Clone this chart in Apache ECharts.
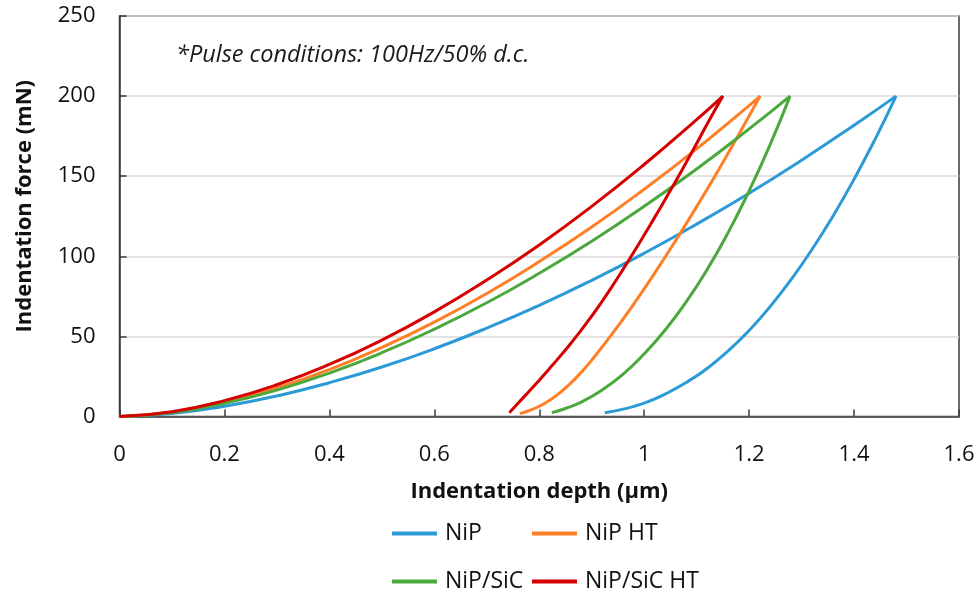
<!DOCTYPE html>
<html><head><meta charset="utf-8">
<script src="https://cdn.jsdelivr.net/npm/echarts@6/dist/echarts.min.js"></script>
<style>html,body{margin:0;padding:0;background:#fff}#c{width:978px;height:593px}</style>
</head><body><div id="c"></div>
<script>
// Series names and colours
const seriesNames = ['NiP', 'NiP HT', 'NiP/SiC', 'NiP/SiC HT'];
const seriesColors = ['#2C9AD6', '#FF7F27', '#4AA83C', '#D60000'];

// Axis ticks
const xTicks = [0, 0.2, 0.4, 0.6, 0.8, 1, 1.2, 1.4, 1.6];
const yTicks = [0, 50, 100, 150, 200, 250];

// NiP
const nipLoadH = [0, 0.1, 0.2, 0.3, 0.4, 0.5, 0.6, 0.7, 0.8, 0.9, 1.0, 1.1, 1.2, 1.3, 1.4, 1.48];
const nipLoadF = [0, 1.9, 6.4, 12.8, 21.1, 30.9, 42.3, 55.2, 69.4, 85.0, 101.9, 120.1, 139.4, 160.0, 181.8, 200];
const nipUnloadH = [1.48, 1.44, 1.40, 1.36, 1.32, 1.28, 1.24, 1.20, 1.16, 1.12, 1.08, 1.04, 1.00, 0.96, 0.925];
const nipUnloadF = [200, 173.0, 148.1, 125.2, 104.4, 85.5, 68.6, 53.7, 40.9, 30.0, 21.2, 14.0, 8.3, 4.6, 2.4];

// NiP HT
const nipHtLoadH = [0, 0.1, 0.2, 0.3, 0.4, 0.5, 0.6, 0.7, 0.8, 0.9, 1.0, 1.1, 1.2, 1.221];
const nipHtLoadF = [0, 2.7, 8.9, 17.9, 29.3, 43.1, 58.9, 76.8, 96.7, 118.3, 141.9, 167.1, 194.1, 200];
const nipHtUnloadH = [1.221, 1.18, 1.14, 1.10, 1.06, 1.02, 0.98, 0.94, 0.90, 0.88, 0.86, 0.84, 0.82, 0.80, 0.78, 0.763];
const nipHtUnloadF = [200, 175.9, 153.0, 131.0, 109.8, 89.5, 70.2, 52.0, 35.2, 27.6, 20.8, 15.0, 10.2, 6.4, 3.6, 1.8];

// NiP/SiC
const sicLoadH = [0, 0.1, 0.2, 0.3, 0.4, 0.5, 0.6, 0.7, 0.8, 0.9, 1.0, 1.1, 1.2, 1.278];
const sicLoadF = [0, 2.5, 8.2, 16.5, 27.1, 39.8, 54.5, 71.0, 89.4, 109.4, 131.2, 154.5, 179.5, 200];
const sicUnloadH = [1.278, 1.24, 1.20, 1.16, 1.12, 1.08, 1.04, 1.00, 0.96, 0.92, 0.88, 0.85, 0.824];
const sicUnloadF = [200, 169.7, 140.8, 114.8, 91.7, 71.5, 54.0, 39.1, 26.5, 16.6, 9.0, 5.0, 2.4];

// NiP/SiC HT
const sicHtLoadH = [0, 0.1, 0.2, 0.3, 0.4, 0.5, 0.6, 0.7, 0.8, 0.9, 1.0, 1.1, 1.15];
const sicHtLoadF = [0, 3.0, 9.9, 19.8, 32.5, 47.7, 65.3, 85.2, 107.1, 131.2, 157.3, 185.3, 200];
const sicHtUnloadH = [1.15, 1.12, 1.10, 1.08, 1.06, 1.04, 1.02, 1.00, 0.98, 0.96, 0.94, 0.92, 0.90, 0.88, 0.86, 0.84, 0.82, 0.80, 0.78, 0.76, 0.743];
const sicHtUnloadF = [200, 182.6, 170.4, 158.5, 146.9, 135.5, 124.3, 113.3, 102.5, 92.0, 81.8, 72.0, 62.7, 53.9, 45.6, 37.7, 30.1, 22.7, 15.5, 8.4, 2.4];

const curves = [
  [nipLoadH, nipLoadF, nipUnloadH, nipUnloadF],
  [nipHtLoadH, nipHtLoadF, nipHtUnloadH, nipHtUnloadF],
  [sicLoadH, sicLoadF, sicUnloadH, sicUnloadF],
  [sicHtLoadH, sicHtLoadF, sicHtUnloadH, sicHtUnloadF]
];

const zip = (a, b) => a.map((v, i) => [v, b[i]]);
const FONT = 'Open Sans';

const series = [];
curves.forEach((c, i) => {
  [[c[0], c[1]], [c[2], c[3]]].forEach(pair => {
    series.push({
      name: seriesNames[i],
      type: 'line',
      data: zip(pair[0], pair[1]),
      smooth: 0.5,
      symbol: 'none',
      lineStyle: { width: 3, color: seriesColors[i] },
      itemStyle: { color: seriesColors[i] },
      z: 2 + i
    });
  });
});

const legendPos = [[392, 522], [532, 522], [392, 570], [532, 570]];
const legends = seriesNames.map((n, i) => ({
  data: [n],
  left: legendPos[i][0],
  top: legendPos[i][1],
  padding: 0,
  itemWidth: 45,
  itemHeight: 4,
  icon: 'path://M0,0 L45,0 L45,4 L0,4 Z',
  selectedMode: false,
  textStyle: { fontFamily: FONT, fontSize: 23, color: '#111', padding: [0, 0, 0, 3] }
}));

const chart = echarts.init(document.getElementById('c'), null, { renderer: 'canvas' });
chart.setOption({
  animation: false,
  backgroundColor: '#fff',
  color: seriesColors,
  grid: { left: 119.5, right: 19, top: 16, bottom: 176.5, show: true, borderColor: '#3a3a3a', borderWidth: 1.5, backgroundColor: 'transparent' },
  legend: legends,
  graphic: [{
    type: 'text',
    left: 176,
    top: 44,
    style: { text: '*Pulse conditions: 100Hz/50% d.c.', fontFamily: FONT, fontStyle: 'italic', fontSize: 23.5, fill: '#1a1a1a' }
  }],
  xAxis: {
    type: 'value', min: 0, max: 1.6, interval: 0.2,
    name: 'Indentation depth (µm)', nameLocation: 'middle', nameGap: 64,
    nameTextStyle: { fontFamily: FONT, fontSize: 22, fontWeight: 'bold', color: '#111' },
    axisLine: { show: true, lineStyle: { color: '#3a3a3a', width: 1.5 } },
    axisTick: { show: true, inside: true, length: 7, lineStyle: { color: '#3a3a3a', width: 1.5 } },
    axisLabel: { fontFamily: FONT, fontSize: 22, color: '#111', margin: 27,
      formatter: v => { const t = xTicks.find(k => Math.abs(k - v) < 1e-6); return t === undefined ? '' : String(t); } },
    splitLine: { show: false }
  },
  yAxis: {
    type: 'value', min: 0, max: 250, interval: 50,
    name: 'Indentation force (mN)', nameLocation: 'middle', nameGap: 84,
    nameTextStyle: { fontFamily: FONT, fontSize: 22, fontWeight: 'bold', color: '#111', padding: [0, 0, 0, 20] },
    axisLine: { show: true, lineStyle: { color: '#3a3a3a', width: 1.5 } },
    axisTick: { show: true, inside: true, length: 7, lineStyle: { color: '#3a3a3a', width: 1.5 } },
    axisLabel: { fontFamily: FONT, fontSize: 22, color: '#111', margin: 24,
      formatter: v => { const t = yTicks.find(k => Math.abs(k - v) < 1e-6); return t === undefined ? '' : String(t); } },
    splitLine: { show: true, lineStyle: { color: '#d9d9d9', width: 1.5 } }
  },
  series: series
});
</script>
</body></html>
